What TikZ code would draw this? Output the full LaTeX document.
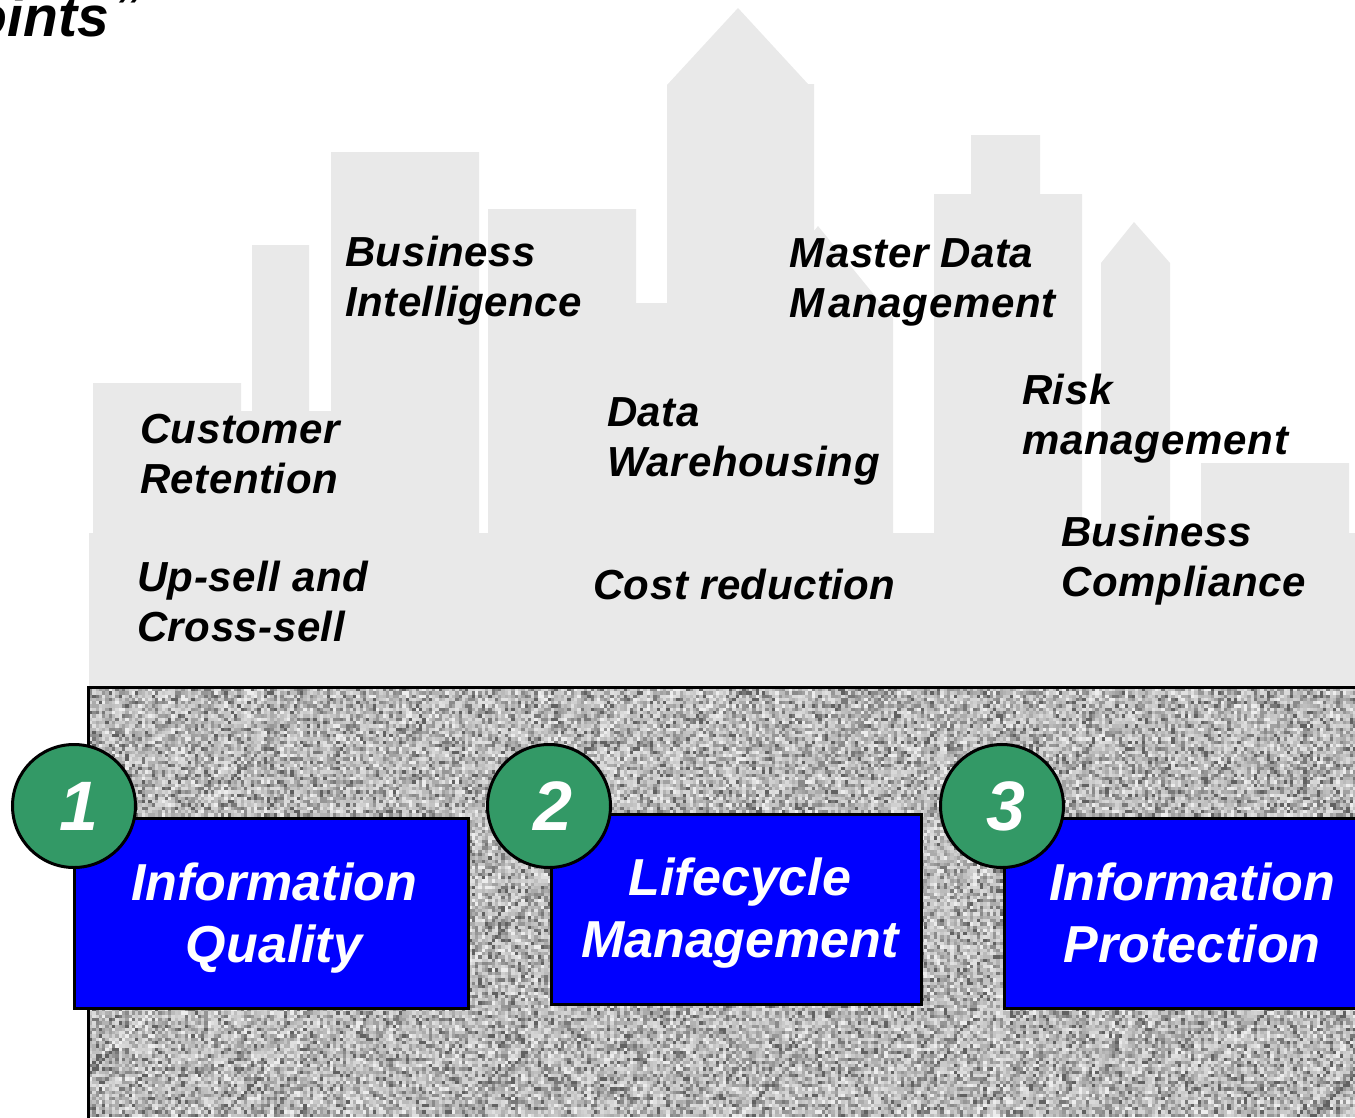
\documentclass[tikz,border=0pt]{standalone}
\usepackage{fontspec}
\setmainfont{Liberation Sans}
\newfontfamily\lblfont[LetterSpace=1.2]{Liberation Sans}
\newfontfamily\lblwide[LetterSpace=1.8]{Liberation Sans}
\definecolor{skyfill}{HTML}{E9E9E9}
\definecolor{circgreen}{HTML}{339966}
\newcount\nsx \newcount\nsy \newcount\nsseed \newcount\nstmp \newcount\nslevel
\makeatletter
\def\nsgray{\ifcase\nslevel .38\or .47\or .54\or .59\or .63\or .67\or .70\or .73\or .75\or .77\or .79\or .81\or .83\or .85\or .88\or .93\fi}
\def\nsstep{%
  \nsseed=\numexpr\nsseed*25173+13849\relax
  \nstmp=\nsseed \divide\nstmp by 65536
  \nsseed=\numexpr\nsseed-\nstmp*65536\relax
  \nslevel=\nsseed \divide\nslevel by 4096 }
\def\nsrow{%
  \ifnum\nsx<13560
    \nsstep
    \pgfsys@invoke{\nsgray\space g \the\nsx\space \the\nsy\space 35 35 re f }%
    \advance\nsx by 33
    \expandafter\nsrow
  \fi}
\def\nsall{%
  \ifnum\nsy<11180
    \nsx=890
    \nsstep
    \nsrow
    \advance\nsy by 33
    \expandafter\nsall
  \fi}
\def\drawnoise{%
  \pgfsys@beginscope
  \pgfsys@transformcm{0.099626}{0}{0}{-0.099626}{0pt}{0pt}%
  \pgfsys@invoke{890 6880 12660 4290 re W n }%
  \nsseed=4711 \nsy=6880
  \nsall
  \pgfsys@endscope}
\makeatother
\newcommand{\widetxt}[1]{{\lblwide\bfseries\itshape #1}}
\tikzset{
  sky/.style={fill=skyfill,draw=none},
  lbl/.style={anchor=base west,align=left,inner sep=0pt,font=\lblfont\bfseries\itshape\fontsize{42}{50.5}\selectfont,text=black},
  bluebox/.style={draw=black,line width=3pt,fill=blue},
  boxtxt/.style={anchor=base,align=center,inner sep=0pt,text=white,font=\bfseries\itshape\fontsize{52}{62}\selectfont},
  numcirc/.style={circle,draw=black,line width=3pt,fill=circgreen,minimum size=123pt,inner sep=0pt},
  numtxt/.style={text=white,font=\bfseries\itshape\fontsize{70}{70}\selectfont,inner sep=0pt}
}
\begin{document}
\begin{tikzpicture}[x=1pt,y=-1pt]
\useasboundingbox (0,0) rectangle (1355,1117);
% skyline
\path[sky] (89,687) -- (89,533) -- (93,533) -- (93,383) -- (241,383) -- (241,411) -- (252,411) -- (252,245) -- (309,245) -- (309,411) -- (331,411) -- (331,152) -- (479,152) -- (479,533) -- (488,533) -- (488,209) -- (636,209) -- (636,303) -- (667,303) -- (667,85) -- (738,8) -- (808,84) -- (814,84) -- (814,231) -- (818,226) -- (893,318) -- (893,533) -- (934,533) -- (934,194) -- (971,194) -- (971,135) -- (1040,135) -- (1040,194) -- (1082,194) -- (1082,533) -- (1101,533) -- (1101,263) -- (1134,222) -- (1170,263) -- (1170,533) -- (1201,533) -- (1201,463) -- (1349,463) -- (1349,533) -- (1355,533) -- (1355,687) -- cycle;
% ground
\drawnoise
\coordinate (gtl) at (88.5,687);
\coordinate (gtr) at (1356,687);
\coordinate (gbl) at (88.5,1118);
\draw[black,line width=3pt] (gtr) -- (gtl) -- (gbl);
% boxes
\node[bluebox,draw,minimum width=394pt,minimum height=190pt,inner sep=0pt] (box1) at (271,913.5) {};
\node[bluebox,draw,minimum width=370pt,minimum height=190pt,inner sep=0pt] (box2) at (736,909) {};
\node[bluebox,draw,minimum width=380pt,minimum height=190pt,inner sep=0pt] (box3) at (1194,913) {};
\node[numcirc] (c1) at (74,806) {};
\node[numcirc] (c2) at (549,806) {};
\node[numcirc] (c3) at (1002,806) {};
\node[numtxt] (n1) at (79,806) {1};
\node[numtxt] (n2) at (553,806) {2};
\node[numtxt] (n3) at (1006,806) {3};
\node[boxtxt] (t1) at (274,962) {Information\\Quality};
\node[boxtxt] (t2) at (740,957) {Lifecycle\\Management};
\node[boxtxt] (t3) at (1192,962) {Information\\Protection};
% labels
\node[lbl] (l1) at (140,493.5) {Customer\\Retention};
\node[lbl] (l2) at (345,316.5) {Business\\Intelligence};
\node[lbl] (l3) at (607,476.5) {Data\\\widetxt{Warehousing}};
\node[lbl] (l4) at (789,317.5) {M\kern2pt aster Data\\\widetxt{M\kern4pt anagement}};
\node[lbl] (l5) at (1022,454.5) {Risk\\\widetxt{management}};
\node[lbl] (l6) at (1061,596.5) {Business\\\widetxt{Compliance}};
\node[lbl] (l7) at (137,641.5) {Up-sell and\\Cross-sell};
\node[lbl] (l8) at (593,599.5) {Cost reduction};
\node[anchor=base east,inner sep=0pt,font=\bfseries\itshape\fontsize{57}{57}\selectfont] (title) at (139,36) {oints\kern6pt{\mdseries\fontsize{72}{72}\selectfont ”}};
\end{tikzpicture}
\end{document}
